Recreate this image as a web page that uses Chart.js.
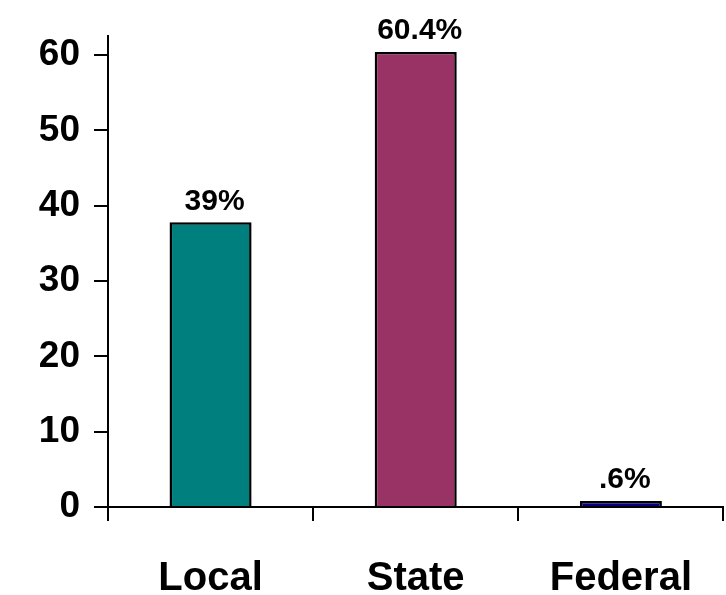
<!DOCTYPE html>
<html><head><meta charset="utf-8">
<script src="https://cdn.jsdelivr.net/npm/chart.js@4"></script>
<style>html,body{margin:0;padding:0;background:#fff}#w{width:726px;height:595px}</style>
</head><body><div id="w"><canvas id="c"></canvas></div>
<script>
const categories = ["Local", "State", "Federal"];
const values = [37.8, 60.4, 0.8];
const valueLabels = ["39%", "60.4%", ".6%"];
const colors = ["#007F7F", "#993366", "#000080"];

const labelPlugin = {
  id: 'lbl',
  afterDatasetsDraw(chart) {
    const ctx = chart.ctx;
    const meta = chart.getDatasetMeta(0);
    ctx.save();
    ctx.font = 'bold 30px "Liberation Sans", Arial, sans-serif';
    ctx.fillStyle = '#000';
    ctx.textAlign = 'center';
    ctx.textBaseline = 'bottom';
    meta.data.forEach((b, i) => {
      ctx.fillText(valueLabels[i], b.x + 4, b.y - 6);
    });
    ctx.restore();
  }
};

new Chart(document.getElementById('c'), {
  type: 'bar',
  data: { labels: categories, datasets: [{ data: values, backgroundColor: colors, borderColor: '#000', borderWidth: 2.5, categoryPercentage: 0.4, barPercentage: 1 }] },
  options: {
    responsive: true, maintainAspectRatio: false, animation: false,
    layout: { padding: { top: 0, right: 0, left: 0, bottom: 0 } },
    plugins: { legend: { display: false }, tooltip: { enabled: false } },
    scales: {
      x: {
        afterFit: a => { a.height = 88; },
        grid: { display: true, drawOnChartArea: false, offset: true, tickLength: 14, color: '#000', lineWidth: 2 },
        border: { color: '#000', width: 2 },
        ticks: { color: '#000', font: { size: 40, weight: 'bold', family: '"Liberation Sans", Arial, sans-serif' }, padding: 34 }
      },
      y: {
        min: 0, max: 62.5,
        afterFit: a => { a.width = 108; },
        afterBuildTicks: a => { a.ticks = [0,10,20,30,40,50,60].map(v => ({ value: v })); },
        grid: { display: true, drawOnChartArea: false, tickLength: 14, color: '#000', lineWidth: 2 },
        border: { color: '#000', width: 2 },
        ticks: { color: '#000', font: { size: 37, weight: 'bold', family: '"Liberation Sans", Arial, sans-serif' }, padding: 14 }
      }
    }
  },
  plugins: [labelPlugin]
});
</script></body></html>
